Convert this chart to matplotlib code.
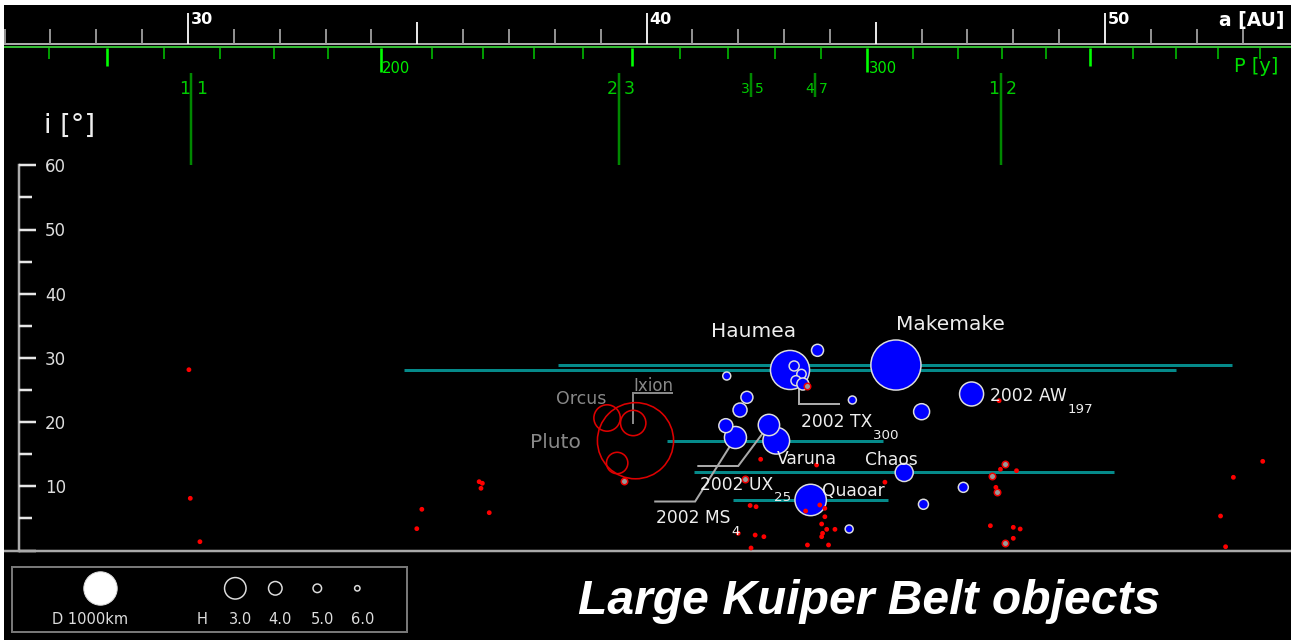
import matplotlib
matplotlib.use("Agg")
import matplotlib.pyplot as plt
from matplotlib import transforms
from matplotlib.patches import Rectangle

# ------------------------------------------------------------------ data
# classical Kuiper belt objects: semi-major axis a [AU], inclination i [deg], diameter D [km]
classical_names = ["Makemake", "Haumea", "Quaoar", "Varuna", "2002 AW197",
                   "2002 MS4", "2002 UX25", "Chaos",
                   "", "", "", "", "", "", "", "", "", ""]
classical_a = [45.44, 43.13, 43.58, 42.83, 47.09, 41.94, 42.67, 45.62,
               46.00, 42.04, 41.73, 43.73, 42.19, 46.91, 46.04, 41.75, 44.49, 44.42]
classical_i = [28.89, 28.12, 7.87, 17.10, 24.38, 17.60, 19.55, 12.15,
               21.62, 21.88, 19.44, 31.18, 23.86, 9.84, 7.20, 27.18, 23.44, 3.35]
classical_d = [1500, 1170, 940, 800, 720, 660, 640, 540,
               480, 420, 420, 360, 360, 300, 300, 240, 240, 240]

# Haumea collisional family (last one is 2002 TX300)
family_a = [43.22, 43.38, 43.26, 43.41]
family_i = [28.74, 27.49, 26.45, 25.93]
family_d = [300, 280, 300, 360]

# resonant objects with known size
resonant_names = ["Pluto", "Orcus", "Ixion", ""]
resonant_a = [39.76, 39.14, 39.71, 39.36]
resonant_i = [17.10, 20.64, 19.86, 13.63]
resonant_d = [2280, 790, 760, 640]

# smaller resonant objects, drawn as rings
ring_a = [39.51, 42.15, 43.50, 47.82, 47.54, 47.65, 47.82]
ring_i = [10.83, 11.18, 25.62, 13.43, 11.65, 9.07, 1.12]

# smallest resonant objects, drawn as dots
dot_a = [30.02, 30.05, 30.26, 35.10, 34.99, 36.35, 36.42, 36.39, 36.57,
         42.49, 43.71, 42.26, 42.39, 45.20, 43.47, 43.78, 43.89, 43.89,
         43.82, 43.93, 43.84, 44.11, 43.82, 42.00, 42.37, 42.56, 42.28,
         43.51, 43.97, 47.69, 47.72, 48.07, 47.62, 47.50, 48.00, 48.15,
         48.00, 53.44, 52.80, 52.52, 52.63]
dot_i = [28.16, 8.13, 1.37, 6.42, 3.40, 10.72, 10.47, 9.69, 5.89,
         14.21, 13.32, 7.01, 6.82, 10.64, 6.15, 7.09, 6.57, 5.26,
         4.13, 3.30, 2.68, 3.30, 2.15, 2.68, 2.41, 2.15, 0.39,
         0.86, 0.86, 23.33, 12.65, 12.43, 9.84, 3.86, 3.61, 3.35,
         1.90, 13.89, 11.40, 5.37, 0.59]

# perihelion q / aphelion Q of selected orbits [AU]
orbit_names = ["Haumea", "Makemake", "Varuna", "Chaos", "Quaoar"]
orbit_q = [34.71, 38.07, 40.44, 41.04, 41.88]
orbit_Q = [51.54, 52.77, 45.16, 50.20, 45.27]

# mean-motion resonances with Neptune
res_inner = ["1", "2", "3", "4", "1"]
res_outer = ["1", "3", "5", "7", "2"]
res_a = [30.07, 39.40, 42.27, 43.67, 47.73]
res_major = [True, True, False, False, True]

# axis ticks
a_ticks = list(range(26, 54))          # semi-major axis [AU]
p_ticks = list(range(140, 400, 10))    # orbital period [y]
i_ticks = list(range(0, 61, 5))        # inclination [deg]

# size legend
legend_d = 1000
legend_h = [3.0, 4.0, 5.0, 6.0]

# ---------------------------------------------------------------- layout
W, H = 1291, 643
X30, PX_AU = 188.0, 45.85      # pixel column of a = 30 AU, pixels per AU
Y0, PX_DEG = 550.5, 6.42       # pixel row of i = 0, pixels per degree
PT = 0.72                      # points per pixel at 100 dpi
KM_PX = 0.0334                 # marker diameter in pixels per km

fig = plt.figure(figsize=(W / 100, H / 100), dpi=100, facecolor="black")
ax = fig.add_axes([0, 0, 1, 1])
ax.set_facecolor("black")
ax.set_xlim(30 - X30 / PX_AU, 30 + (W - X30) / PX_AU)
ax.set_ylim((Y0 - H) / PX_DEG, Y0 / PX_DEG)
ax.axis("off")
XMIN, XMAX = ax.get_xlim()


def fy(py):
    return 1 - py / H


def fx(px):
    return px / W


def size(d_px):
    return (d_px * PT) ** 2


top = transforms.blended_transform_factory(ax.transData, fig.transFigure)
left = transforms.blended_transform_factory(fig.transFigure, ax.transData)


def shifted(trans, dx=0, dy=0):
    return transforms.offset_copy(trans, fig=fig, x=dx, y=dy, units="dots")


WHITE = "#eeeeee"
GREY = "#888888"
LEADER = "#aaaaaa"

# ------------------------------------------------ semi-major axis / period scale
ax.plot([XMIN, XMAX], [fy(44.3)] * 2, transform=top, color="#aaaaaa", lw=2 * PT,
        solid_capstyle="butt")
ax.plot([XMIN, XMAX], [fy(46.7)] * 2, transform=top, color="#33bb33", lw=2 * PT,
        solid_capstyle="butt")
for a in a_ticks:
    if a % 10 == 0:
        y1, col = 12.5, "#ffffff"
        ax.text(a, fy(12.0), str(a), transform=shifted(top, 2.5), ha="left", va="top",
                color="#ffffff", fontsize=11.5, fontweight="bold")
    elif a % 5 == 0:
        y1, col = 21.7, "#ffffff"
    else:
        y1, col = 29.3, "#a0a0a0"
    ax.plot([a, a], [fy(43.5), fy(y1)], transform=top, color=col, lw=1.8 * PT,
            solid_capstyle="butt")

for p in p_ticks:
    a = p ** (2 / 3)
    if p % 100 == 0:
        y2, col, lw = 71.7, "#00ff00", 2.6
        ax.text(a, fy(67.0), str(p), transform=shifted(top, 1.5), ha="left",
                va="center_baseline", color="#00ee00", fontsize=10.6)
    elif p % 50 == 0:
        y2, col, lw = 65.7, "#00ff00", 2.6
    else:
        y2, col, lw = 59.3, "#009900", 2.0
    ax.plot([a, a], [fy(47.5), fy(y2)], transform=top, color=col, lw=lw * PT,
            solid_capstyle="butt")

fig.text(fx(1219), fy(18.8), "a [AU]", ha="left", va="center_baseline",
         color="#ffffff", fontsize=13.5, fontweight="bold")
fig.text(fx(1234), fy(65.0), "P [y]", ha="left", va="center_baseline",
         color="#00dd00", fontsize=14)

# resonances
for lo, hi, a, major in zip(res_inner, res_outer, res_a, res_major):
    y_end = 165 if major else 96.7
    ax.plot([a, a], [fy(72.7), fy(y_end)], transform=top, color="#008800",
            lw=2.5 * PT, solid_capstyle="butt")
    fs = 12.5 if major else 10
    ax.text(a, fy(87.3), lo, transform=shifted(top, -1.5 if major else -0.5),
            ha="right", va="center_baseline", color="#00cc00", fontsize=fs)
    ax.text(a, fy(87.3), hi, transform=shifted(top, 5 if major else 4.5),
            ha="left", va="center_baseline", color="#00cc00", fontsize=fs)

# ------------------------------------------------------------- inclination scale
ax.plot([fx(19.3)] * 2, [0, 60], transform=left, color="#aaaaaa", lw=2.5 * PT,
        solid_capstyle="projecting")
for t in i_ticks:
    x_end = 36 if t % 10 == 0 else 31.7
    ax.plot([fx(19.3), fx(x_end)], [t, t], transform=left, color="#e6e6e6",
            lw=2.5 * PT, solid_capstyle="butt")
    if t % 10 == 0 and t > 0:
        ax.text(fx(45), t, str(t), transform=left, ha="left", va="center_baseline",
                color="#dddddd", fontsize=12)
fig.text(fx(44), fy(126), "i [°]", ha="left", va="center", color=WHITE, fontsize=19.5)

ax.axhline(0, color="#aaaaaa", lw=2.5 * PT)

# ----------------------------------------------------------------- orbit ranges
orbit_i = [classical_i[classical_names.index(n)] for n in orbit_names]
ax.hlines(orbit_i, orbit_q, orbit_Q, color="#058a8a", lw=3 * PT, zorder=2)

# ----------------------------------------------------------------------- objects
order = sorted(range(len(classical_d)), key=lambda k: -classical_d[k])
ax.scatter([classical_a[k] for k in order], [classical_i[k] for k in order],
           s=[size(classical_d[k] * KM_PX) for k in order], c="#0000ff",
           edgecolors="#dddddd", linewidths=1.5 * PT, zorder=3)
ax.scatter(family_a, family_i, s=[size(d * KM_PX) for d in family_d], c="#0000ff",
           edgecolors="#dddddd", linewidths=1.5 * PT, zorder=4)
ax.scatter(resonant_a, resonant_i, s=[size(d * KM_PX) for d in resonant_d],
           facecolors="none", edgecolors="#dd0000", linewidths=1.6 * PT, zorder=3)
ax.scatter(ring_a, ring_i, s=size(6.5), facecolors="#999999", edgecolors="#ee0000",
           linewidths=1.5 * PT, zorder=5)
ax.scatter(dot_a, dot_i, s=size(4.8), c="#ff0000", edgecolors="none", zorder=5)


# ------------------------------------------------------------------------ labels
def label(x, y, s, color=WHITE, fs=12.3, sub=None):
    t = ax.text(x, y, s, ha="left", va="center_baseline", color=color, fontsize=fs,
                zorder=6)
    if sub:
        ax.annotate(sub, xy=(1, 0), xycoords=t, xytext=(0.3, -1.6),
                    textcoords="offset points", ha="left", va="center_baseline",
                    color=color, fontsize=9.6, zorder=6)
    return t


def leader(points, color=LEADER):
    xs, ys = zip(*points)
    ax.plot(xs, ys, color=color, lw=2 * PT, zorder=2.5, solid_joinstyle="miter")


def obj(name):
    k = classical_names.index(name)
    return classical_a[k], classical_i[k]


label(45.44, 35.44, "Makemake", fs=14.5)
label(41.41, 34.35, "Haumea", fs=14.5)
label(37.46, 17.06, "Pluto", color=GREY, fs=14.5)
label(38.03, 23.91, "Orcus", color=GREY, fs=12.5)
label(39.71, 25.93, "Ixion", color=GREY, fs=12)
ix = resonant_names.index("Ixion")
leader([(resonant_a[ix], resonant_i[ix]), (resonant_a[ix], 24.5), (40.55, 24.5)],
       color=GREY)

label(43.37, 20.25, "2002 TX", sub="300")
leader([(family_a[-1] - 0.08, family_i[-1] - 0.4), (family_a[-1] - 0.08, 22.77),
        (44.20, 22.77)])
label(42.85, 14.56, "Varuna")
label(44.77, 14.41, "Chaos")
label(43.83, 9.58, "Quaoar")
label(41.17, 10.51, "2002 UX", sub="25")
leader([obj("2002 UX25"), (42.0, 13.16), (41.13, 13.16)])
label(40.21, 5.30, "2002 MS", sub="4")
leader([obj("2002 MS4"), (41.06, 7.63), (40.19, 7.63)])
label(47.49, 24.30, "2002 AW", sub="197")

# ------------------------------------------------------------------------ legend
fig.add_artist(Rectangle((fx(11.7), fy(632.3)), fx(395), 65 / H,
                         transform=fig.transFigure, facecolor="black",
                         edgecolor="#777777", lw=2 * PT, zorder=3))
lax = fig.add_axes([fx(11.7), fy(632.3), fx(395), 65 / H], zorder=4)
lax.set_xlim(0, 395)
lax.set_ylim(65, 0)
lax.axis("off")
lax.scatter([88.3], [21], s=size(legend_d * KM_PX), c="#ffffff", edgecolors="#dddddd",
            linewidths=1 * PT)
h_x = [223.6, 263.6, 305.6, 345.6]
lax.scatter(h_x, [21] * len(legend_h),
            s=[size(21.5 * 10 ** (-(h - 3) / 5)) for h in legend_h],
            facecolors="none", edgecolors="#dddddd", linewidths=1.5 * PT)
lax.text(78.3, 51.2, f"D {legend_d}km", ha="center", va="center_baseline",
         color="#dddddd", fontsize=10.5)
lax.text(190.8, 51.2, "H", ha="center", va="center_baseline", color="#dddddd",
         fontsize=10.5)
for x, h in zip(h_x, legend_h):
    lax.text(x + 5, 51.2, f"{h:.1f}", ha="center", va="center_baseline",
             color="#dddddd", fontsize=10.5)

# ------------------------------------------------------------------------- title
fig.text(fx(869), fy(596), "Large Kuiper Belt objects", ha="center",
         va="center_baseline", color="#ffffff", fontsize=34.6,
         family="Liberation Sans", fontweight="bold", style="italic")

# white frame on the outer edge
for x0, y0, w, h in [(0, fy(5), 1, 5 / H), (0, 0, fx(4), 1), (0, 0, 1, 3 / H)]:
    fig.add_artist(Rectangle((x0, y0), w, h, transform=fig.transFigure,
                             facecolor="white", edgecolor="none", zorder=100))

fig.savefig("out.png", dpi=100, facecolor="black")
